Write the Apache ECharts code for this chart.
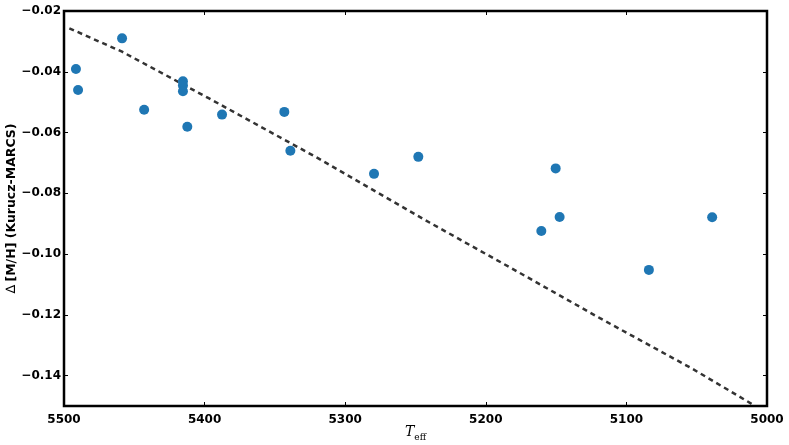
<!DOCTYPE html>
<html>
<head>
<meta charset="utf-8">
<script src="https://cdn.jsdelivr.net/npm/echarts@6/dist/echarts.min.js"></script>
<style>html,body{margin:0;padding:0;background:#fff;}#c{width:789px;height:445px;}</style>
</head>
<body>
<div id="c"></div>
<script>
// Scatter data: Teff and delta [M/H]
const teff = [5491.5, 5490, 5458.7, 5443, 5415.4, 5415.4, 5415.4, 5412.3, 5387.6, 5343.3, 5339, 5279.5, 5248, 5150.3, 5147.5, 5160.5, 5084, 5039];
const dmh  = [-0.0391, -0.0460, -0.0290, -0.0525, -0.0431, -0.0445, -0.0464, -0.0581, -0.0541, -0.0532, -0.0660, -0.0736, -0.0680, -0.0718, -0.0878, -0.0924, -0.1052, -0.0879];
// Fit line (dashed)
const fitX = [5496.2, 5458.7, 5397.1, 5319.1, 5239.7, 5181.6, 5118.8, 5053.6, 5010.9];
const fitY = [-0.0257, -0.0334, -0.0487, -0.0685, -0.0897, -0.1047, -0.1211, -0.1376, -0.1493];
// Ticks
const xTicks = [5500, 5400, 5300, 5200, 5100, 5000];
const yTicks = [-0.14, -0.12, -0.10, -0.08, -0.06, -0.04, -0.02];

const fmtY = v => (v < 0 ? '\u2212' : '') + Math.abs(v).toFixed(2);
const lblFont = {fontFamily: 'DejaVu Sans', fontWeight: 'bold', fontSize: 12, color: '#000'};

const chart = echarts.init(document.getElementById('c'), null, {renderer: 'canvas'});
const xBase = {
  type: 'value', min: 5000, max: 5500, inverse: true,
  splitLine: {show: false},
  axisLine: {show: false},
};
const yBase = {
  type: 'value', min: -0.15, max: -0.02,
  splitLine: {show: false},
  axisLine: {show: false},
};
chart.setOption({
  animation: false,
  backgroundColor: '#fff',
  grid: {left: 64, right: 22, top: 11, bottom: 39, containLabel: false, outerBoundsMode: 'none', show: true, borderColor: '#000', borderWidth: 2.5, backgroundColor: 'transparent'},
  xAxis: [
    Object.assign({}, xBase, {
      position: 'bottom',
      axisTick: {show: true, inside: true, length: 4, lineStyle: {color: '#000', width: 1}, customValues: xTicks},
      axisLabel: Object.assign({}, lblFont, {margin: 8, customValues: xTicks, formatter: v => String(v)}),
      name: '{t|T}{s|eff}',
      nameLocation: 'middle',
      nameGap: 19,
      nameMoveOverlap: false,
      nameTextStyle: {
        rich: {
          t: {fontFamily: 'DejaVu Serif', fontStyle: 'italic', fontSize: 14, color: '#000', verticalAlign: 'bottom'},
          s: {fontFamily: 'DejaVu Serif', fontSize: 9, color: '#000', verticalAlign: 'bottom', padding: [0, 0, -3, 0]}
        }
      }
    }),
    Object.assign({}, xBase, {
      position: 'top',
      axisTick: {show: true, inside: true, length: 4, lineStyle: {color: '#000', width: 1}, customValues: xTicks},
      axisLabel: {show: false}
    })
  ],
  yAxis: [
    Object.assign({}, yBase, {
      position: 'left',
      axisTick: {show: true, inside: true, length: 4, lineStyle: {color: '#000', width: 1}, customValues: yTicks},
      axisLabel: Object.assign({}, lblFont, {margin: 3, customValues: yTicks, formatter: fmtY}),
      name: '{d|\u2206} {b|[M/H] (Kurucz-MARCS)}',
      nameLocation: 'middle',
      nameGap: 46,
      nameRotate: 90,
      nameMoveOverlap: false,
      nameTextStyle: {
        rich: {
          d: {fontFamily: 'DejaVu Sans', fontSize: 13, color: '#000'},
          b: {fontFamily: 'DejaVu Sans', fontWeight: 'bold', fontSize: 12.5, color: '#000'}
        }
      }
    }),
    Object.assign({}, yBase, {
      position: 'right',
      axisTick: {show: true, inside: true, length: 4, lineStyle: {color: '#000', width: 1}, customValues: yTicks},
      axisLabel: {show: false}
    })
  ],
  series: [
    {
      type: 'line',
      data: fitX.map((x, i) => [x, fitY[i]]),
      showSymbol: false,
      symbol: 'none',
      lineStyle: {color: '#333', width: 2.5, type: [5, 4]},
      z: 2
    },
    {
      type: 'scatter',
      data: teff.map((x, i) => [x, dmh[i]]),
      symbolSize: 10,
      itemStyle: {color: '#1f77b4', opacity: 1},
      z: 3
    }
  ]
});
</script>
</body>
</html>
